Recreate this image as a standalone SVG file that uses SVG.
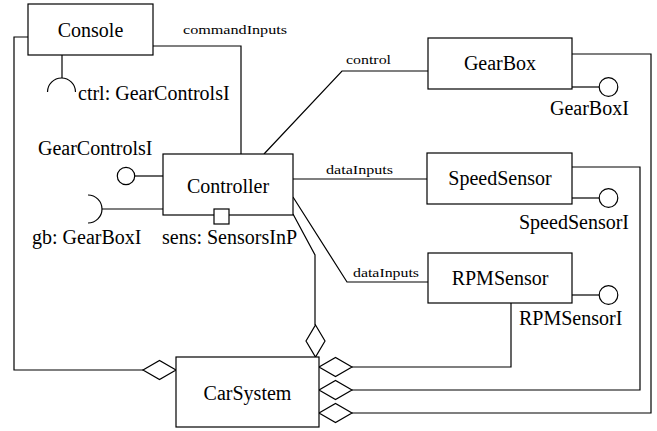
<svg xmlns="http://www.w3.org/2000/svg" width="657" height="431" viewBox="0 0 657 431">
<style>
.box{fill:#fff;stroke:#000;stroke-width:1.2}
.ln{fill:none;stroke:#000;stroke-width:1.2}
.dia{fill:#fff;stroke:#000;stroke-width:1.2}
text{font-family:'Liberation Serif','Tinos','Times New Roman',Times,'DejaVu Serif',serif;fill:#000}
.big{font-size:20px}
.sm{font-size:13px}
.c{text-anchor:middle}
</style>
<rect width="657" height="431" fill="#fff"/>
<g id="connectors">
<path class="ln" d="M28,37 H14 V370 H143"/>
<path class="ln" d="M153,46 H241 V154"/>
<path class="ln" d="M264,154 L342,71 H428"/>
<path class="ln" d="M293,179 H427"/>
<path class="ln" d="M293,197 L347,282 H428"/>
<path class="ln" d="M293,214 L315,255 V325"/>
<path class="ln" d="M511,303 V367 H352"/>
<path class="ln" d="M572,167 H640 V390 H352"/>
<path class="ln" d="M572,54 H651 V413 H352"/>
<polygon class="dia" points="143,370 159.5,360.5 176,370 159.5,379.5"/>
<polygon class="dia" points="315.5,325 325,341 315.5,357 306,341"/>
<polygon class="dia" points="319,367 335.5,357.5 352,367 335.5,376.5"/>
<polygon class="dia" points="319,390 335.5,380.5 352,390 335.5,399.5"/>
<polygon class="dia" points="319,413 335.5,403.5 352,413 335.5,422.5"/>
<text class="sm" font-family="Liberation Serif, serif" x="183" y="34" textLength="104" lengthAdjust="spacingAndGlyphs">commandInputs</text>
<text class="sm" font-family="Liberation Serif, serif" x="346" y="64" textLength="45" lengthAdjust="spacingAndGlyphs">control</text>
<text class="sm" font-family="Liberation Serif, serif" x="326" y="174" textLength="67" lengthAdjust="spacingAndGlyphs">dataInputs</text>
<text class="sm" font-family="Liberation Serif, serif" x="353" y="277" textLength="66" lengthAdjust="spacingAndGlyphs">dataInputs</text>
</g>
<g id="Console">
<rect class="box" x="28" y="4" width="125" height="51"/>
<text class="big c" x="90.5" y="37">Console</text>
<path class="ln" d="M62,55 V78"/>
<path class="ln" d="M47.5,92 A14,14 0 0 1 75.5,92"/>
<text class="big" x="78" y="100">ctrl: GearControlsI</text>
</g>
<g id="Controller">
<rect class="box" x="163" y="154" width="130" height="61"/>
<text class="big c" x="228" y="193">Controller</text>
<path class="ln" d="M135,176 H163"/>
<circle class="ln" cx="126" cy="176" r="8.7"/>
<text class="big" x="38" y="155">GearControlsI</text>
<path class="ln" d="M102,209 H163"/>
<path class="ln" d="M88,195 A14,14 0 0 1 88,223"/>
<text class="big" x="32" y="244">gb: GearBoxI</text>
<rect class="box" x="214" y="209" width="15" height="15"/>
<text class="big" x="162" y="244">sens: SensorsInP</text>
</g>
<g id="GearBox">
<rect class="box" x="428" y="38" width="144" height="51"/>
<text class="big c" x="500" y="70">GearBox</text>
<path class="ln" d="M572,87 H599"/>
<circle class="ln" cx="608.5" cy="87" r="9.3"/>
<text class="big" x="550" y="115">GearBoxI</text>
</g>
<g id="SpeedSensor">
<rect class="box" x="427" y="153" width="145" height="51"/>
<text class="big c" x="500" y="185">SpeedSensor</text>
<path class="ln" d="M572,198 H599"/>
<circle class="ln" cx="608.5" cy="198" r="9.3"/>
<text class="big" x="519" y="229">SpeedSensorI</text>
</g>
<g id="RPMSensor">
<rect class="box" x="428" y="253" width="144" height="50"/>
<text class="big c" x="500" y="285">RPMSensor</text>
<path class="ln" d="M572,295 H599"/>
<circle class="ln" cx="608.5" cy="295" r="9.3"/>
<text class="big" x="519" y="325">RPMSensorI</text>
</g>
<g id="CarSystem">
<rect class="box" x="176" y="357" width="143" height="70"/>
<text class="big c" x="247.5" y="400">CarSystem</text>
</g>
</svg>
